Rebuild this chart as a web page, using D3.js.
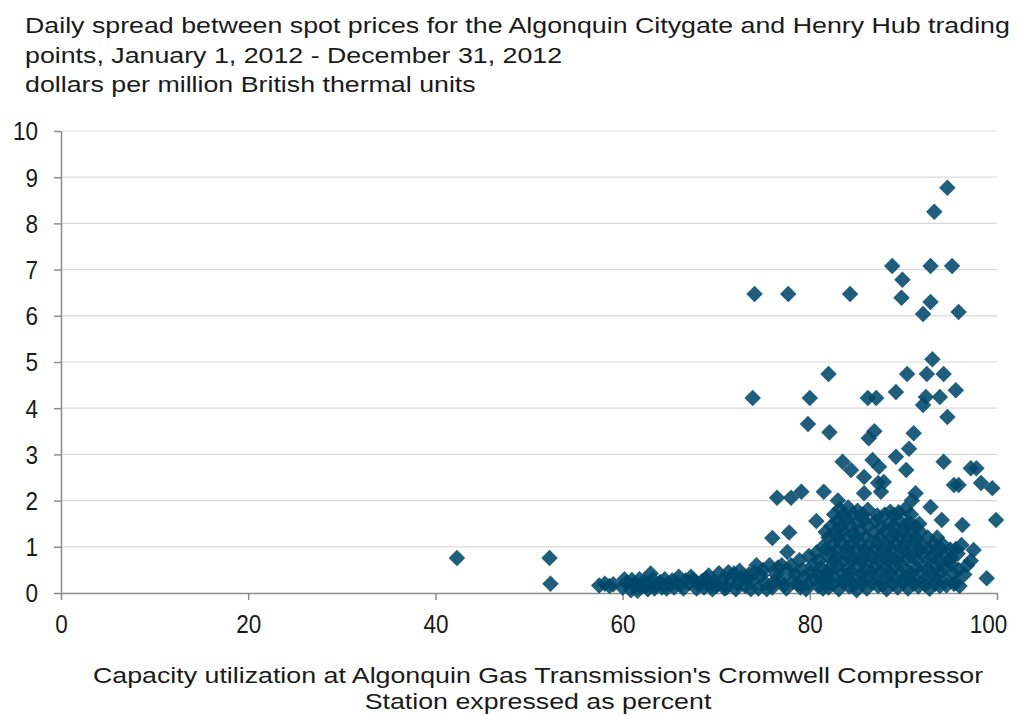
<!DOCTYPE html>
<html>
<head>
<meta charset="utf-8">
<script src="https://cdn.jsdelivr.net/npm/d3@7"></script>
<style>
  body { margin: 0; background: #fff; }
  text { font-family: "Liberation Sans", Arial, sans-serif; fill: #1a1a1a; }
</style>
</head>
<body>
<script>
// [capacity utilization %, spread $/MMBtu]
var lowUtilization = [
  [42.3, 0.76], [52.2, 0.76], [52.3, 0.2],
  [57.5, 0.16], [58.1, 0.2], [58.6, 0.15], [59.0, 0.19],
  [60.0, 0.12], [60.4, 0.22], [60.9, 0.06], [61.3, 0.18], [61.6, 0.05], [62.0, 0.13],
  [62.3, 0.25], [62.7, 0.08], [63.0, 0.42], [63.2, 0.3], [63.6, 0.16], [64.0, 0.24],
  [64.5, 0.3], [64.9, 0.2], [65.3, 0.27], [65.8, 0.22], [66.2, 0.17], [66.7, 0.27],
  [67.1, 0.22], [67.6, 0.28], [68.0, 0.2], [68.5, 0.26], [68.9, 0.31], [69.4, 0.17], [69.8, 0.23],
  [60.2, 0.3], [61.0, 0.28], [61.8, 0.3], [62.5, 0.15], [63.4, 0.1], [64.2, 0.12],
  [64.7, 0.1], [65.5, 0.12], [66.0, 0.35], [66.5, 0.1], [67.3, 0.35], [67.9, 0.1],
  [68.7, 0.12], [69.2, 0.38], [69.6, 0.08]
];

var midUtilization = [
  [70.3, 0.43], [70.6, 0.28], [71.1, 0.12], [71.5, 0.3], [71.9, 0.42], [72.3, 0.2],
  [72.7, 0.33], [73.1, 0.15], [73.5, 0.4], [73.9, 0.27], [74.3, 0.6], [74.5, 0.1],
  [74.8, 0.38], [75.2, 0.22], [75.7, 0.6], [76.0, 0.12], [76.4, 0.4], [76.8, 0.3],
  [77.0, 0.6], [77.3, 0.18], [77.6, 0.89], [77.8, 0.45], [78.2, 0.25], [78.5, 0.4],
  [78.9, 0.71], [79.0, 0.12], [79.4, 0.35], [79.8, 0.2], [80.1, 0.45], [80.5, 0.3],
  [80.7, 0.87], [80.9, 0.15], [81.2, 0.55], [81.5, 0.25], [81.8, 0.42],
  [76.0, 1.19], [77.8, 1.31], [80.7, 1.56], [81.7, 1.32], [81.4, 1.0],
  [70.0, 0.15], [70.9, 0.1], [71.3, 0.45], [72.1, 0.08], [72.5, 0.48], [73.3, 0.3],
  [73.7, 0.08], [74.1, 0.45], [75.0, 0.5], [75.4, 0.08], [76.2, 0.25], [76.6, 0.55],
  [77.5, 0.1], [78.0, 0.6], [78.7, 0.2], [79.2, 0.5], [79.6, 0.08], [80.3, 0.6],
  [80.8, 0.4], [81.0, 0.7], [81.4, 0.1], [79.9, 0.8]
];

var peakUtilization = [
  [82.0, 0.12], [83.1, 0.08], [84.2, 0.14], [85.0, 0.06], [86.1, 0.1], [87.3, 0.15],
  [88.2, 0.08], [89.4, 0.12], [90.5, 0.1], [91.6, 0.14], [92.8, 0.09], [93.9, 0.15],
  [82.5, 0.2], [83.6, 0.22], [84.7, 0.18], [85.6, 0.2], [86.7, 0.22], [87.8, 0.18],
  [88.9, 0.2], [90.0, 0.22], [91.1, 0.2], [92.3, 0.18], [93.4, 0.2], [94.6, 0.16],
  [81.6, 0.3], [82.5, 0.35], [83.6, 0.28], [84.6, 0.32], [85.5, 0.26], [86.5, 0.36],
  [87.7, 0.3], [88.8, 0.34], [89.9, 0.28], [91.0, 0.33], [92.2, 0.27], [93.3, 0.36],
  [94.5, 0.3], [95.6, 0.22],
  [81.9, 0.45], [83.4, 0.44], [84.4, 0.46], [85.6, 0.43], [86.6, 0.45], [87.6, 0.46],
  [88.6, 0.44], [89.7, 0.45], [90.8, 0.43], [91.9, 0.46], [93.0, 0.44], [94.0, 0.45], [95.3, 0.43],
  [82.2, 0.55], [83.0, 0.6], [84.0, 0.52], [85.2, 0.58], [86.0, 0.5], [87.0, 0.57],
  [88.1, 0.53], [89.2, 0.6], [90.3, 0.5], [91.4, 0.56], [92.5, 0.52], [93.6, 0.58],
  [94.3, 0.56], [95.1, 0.62],
  [82.6, 0.7], [83.5, 0.68], [84.5, 0.72], [85.5, 0.7], [86.4, 0.69], [87.4, 0.71],
  [88.3, 0.7], [89.4, 0.68], [90.4, 0.72], [91.5, 0.7], [92.6, 0.69], [93.7, 0.71],
  [81.9, 0.8], [82.8, 0.78], [83.8, 0.85], [84.7, 0.76], [85.7, 0.82], [86.6, 0.79],
  [87.5, 0.84], [88.6, 0.77], [89.6, 0.83], [90.8, 0.8], [91.9, 0.86], [93.0, 0.78],
  [94.4, 0.8], [95.1, 0.76], [95.8, 0.85],
  [81.8, 0.95], [82.9, 0.94], [83.9, 0.96], [84.9, 0.95], [85.9, 0.93], [86.9, 0.96],
  [87.9, 0.95], [88.8, 0.94], [89.9, 0.96], [90.9, 0.95], [91.8, 0.93], [92.7, 0.96],
  [94.0, 0.95], [95.0, 0.94],
  [82.4, 1.05], [83.3, 1.1], [84.3, 1.02], [85.3, 1.08], [86.3, 1.04], [87.2, 1.1],
  [88.3, 1.03], [89.1, 1.08], [90.1, 1.05], [91.1, 1.12], [92.0, 1.02], [93.2, 1.07],
  [96.2, 1.04], [97.5, 0.93],
  [82.0, 1.2], [83.0, 1.21], [84.0, 1.19], [85.0, 1.2], [86.0, 1.22], [87.5, 1.2],
  [88.6, 1.19], [89.6, 1.21], [90.5, 1.2], [91.4, 1.18], [92.6, 1.2],
  [82.6, 1.3], [83.5, 1.35], [84.6, 1.28], [85.4, 1.34], [86.8, 1.3], [88.0, 1.33],
  [89.0, 1.27], [90.0, 1.36], [90.9, 1.3], [91.8, 1.32],
  [82.3, 1.45], [83.3, 1.44], [84.3, 1.46], [86.2, 1.45], [87.7, 1.43], [89.0, 1.45],
  [90.2, 1.46], [91.3, 1.44],
  [82.9, 1.55], [83.9, 1.6], [85.0, 1.52], [85.8, 1.58], [87.0, 1.55], [88.4, 1.5],
  [89.5, 1.58], [90.6, 1.52], [91.7, 1.5], [94.1, 1.58], [96.3, 1.47], [99.9, 1.58],
  [82.6, 1.7], [83.6, 1.69], [84.6, 1.71], [85.6, 1.7], [87.2, 1.68], [88.0, 1.7],
  [89.0, 1.69], [90.8, 1.7],
  [83.2, 1.82], [84.1, 1.85], [85.1, 1.78], [86.2, 1.8], [88.6, 1.76], [89.5, 1.75],
  [90.2, 1.82], [92.9, 1.86],
  [95.4, 0.2], [96.5, 0.4], [97.2, 0.7], [98.9, 0.32], [95.6, 0.95], [96.8, 0.6],
  [93.5, 0.9], [94.8, 0.7], [95.9, 0.5], [94.2, 1.05], [96.0, 0.15], [93.6, 1.2]
];

var highSpread = [
  [73.9, 4.22], [74.1, 6.47], [77.7, 6.47], [84.3, 6.47],
  [88.8, 7.08], [89.9, 6.78], [89.8, 6.39], [92.9, 7.08], [95.2, 7.08], [93.3, 8.25],
  [94.7, 8.77], [92.9, 6.3], [92.1, 6.04], [95.9, 6.08],
  [93.1, 5.06], [82.0, 4.74], [90.4, 4.74], [92.5, 4.74], [94.3, 4.74], [95.6, 4.39],
  [80.0, 4.22], [86.2, 4.22], [87.1, 4.22], [89.2, 4.35], [92.4, 4.24], [93.9, 4.24],
  [92.1, 4.07], [94.7, 3.81],
  [79.8, 3.66], [82.1, 3.48], [86.9, 3.5], [86.3, 3.35], [91.1, 3.46], [90.6, 3.12],
  [83.5, 2.84], [84.4, 2.66], [86.7, 2.88], [87.4, 2.73], [89.2, 2.95], [90.3, 2.66],
  [85.8, 2.51], [87.3, 2.38], [87.9, 2.4], [85.8, 2.16], [91.3, 2.16], [90.9, 2.0],
  [94.3, 2.84], [95.4, 2.34], [95.9, 2.34], [97.2, 2.7], [97.8, 2.7], [98.3, 2.38],
  [99.5, 2.27], [76.5, 2.06], [78.0, 2.06], [79.1, 2.19], [81.5, 2.19], [87.6, 2.19],
  [83.0, 2.0]
];

var titleLines = [
  "Daily spread between  spot prices for the Algonquin Citygate and Henry Hub trading",
  "points, January 1, 2012 - December 31, 2012",
  "dollars per million British thermal  units"
];
var xTitleLines = [
  "Capacity utilization at Algonquin Gas Transmission's Cromwell  Compressor",
  "Station expressed as percent"
];
var xTicks = [0, 20, 40, 60, 80, 100];

var W = 1018, H = 715;
var margin = { top: 131, right: 21, bottom: 122, left: 61 };
var width = W - margin.left - margin.right,
  height = H - margin.top - margin.bottom;
var widen = 1.19; // title text in the picture is wider than plain Arial
var fontSize = "22.5px";
var tickScale = "scale(0.9,1)"; // tick digits are narrower and taller

var svg = d3.select("body").append("svg")
  .attr("width", W)
  .attr("height", H);

var x = d3.scaleLinear().domain([0, 100]).range([0, width]);
var y = d3.scaleLinear().domain([0, 10]).range([height, 0]);

// title
svg.append("g").selectAll("text").data(titleLines).enter()
  .append("text")
  .attr("transform", function (d, i) { return "translate(25," + (33 + i * 29.5) + ") scale(" + widen + ",1)"; })
  .style("font-size", fontSize)
  .text(function (d) { return d; });

var g = svg.append("g")
  .attr("transform", "translate(" + margin.left + "," + margin.top + ")");

// gridlines
g.append("g").selectAll("line").data(y.ticks(10).filter(function (d) { return d > 0; })).enter()
  .append("line")
  .attr("x1", 0).attr("x2", width)
  .attr("y1", function (d) { return y(d); })
  .attr("y2", function (d) { return y(d); })
  .attr("stroke", "#d9d9d9")
  .attr("stroke-width", 1.2);

// y axis
var yAxis = g.append("g")
  .call(d3.axisLeft(y).ticks(10).tickSize(7).tickSizeOuter(0).tickFormat(d3.format("d")));
yAxis.select(".domain").attr("stroke", "#8c8c8c").attr("stroke-width", 1.5);
yAxis.selectAll(".tick line").attr("stroke", "#8c8c8c").attr("stroke-width", 1.5);
yAxis.selectAll(".tick text")
  .attr("x", 0).attr("dy", null).attr("y", 0)
  .attr("transform", "translate(-23,0) " + tickScale)
  .attr("dominant-baseline", "central")
  .style("font-size", "25px").style("fill", "#1a1a1a");

// x axis
var xAxis = g.append("g")
  .attr("transform", "translate(0," + height + ")")
  .call(d3.axisBottom(x).tickValues(xTicks).tickSize(7).tickSizeOuter(0));
xAxis.select(".domain").attr("stroke", "#8c8c8c").attr("stroke-width", 1.5);
xAxis.selectAll(".tick line").attr("stroke", "#8c8c8c").attr("stroke-width", 1.5);
xAxis.selectAll(".tick text")
  .attr("y", 0).attr("dy", null)
  .attr("transform", function (d) { return "translate(" + (d === 100 ? -9 : 0) + ",40) " + tickScale; })
  .style("font-size", "25px").style("fill", "#1a1a1a");

// x axis title
svg.append("g").selectAll("text").data(xTitleLines).enter()
  .append("text")
  .attr("text-anchor", "middle")
  .attr("transform", function (d, i) { return "translate(538," + (683 + i * 26) + ") scale(" + widen + ",1)"; })
  .style("font-size", fontSize)
  .text(function (d) { return d; });

// points
var points = lowUtilization.concat(midUtilization, peakUtilization, highSpread);
var diamond = d3.symbol().type(d3.symbolSquare).size(136);

g.append("g").selectAll("path").data(points).enter()
  .append("path")
  .attr("d", diamond)
  .attr("transform", function (d) { return "translate(" + x(d[0]) + "," + y(d[1]) + ") rotate(45)"; })
  .style("fill", "#00486a")
  .style("fill-opacity", 0.88);
</script>
</body>
</html>
